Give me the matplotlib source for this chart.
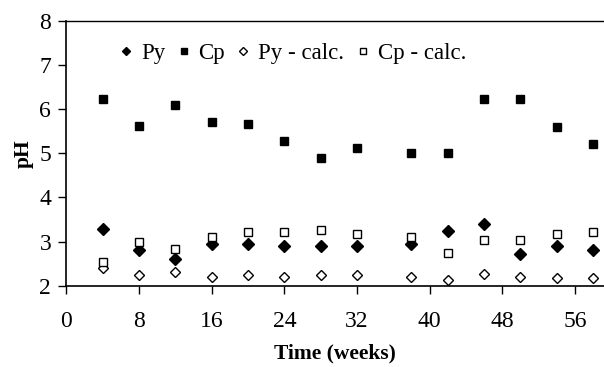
import matplotlib.pyplot as plt

plt.rcParams['font.family'] = ['Liberation Serif', 'DejaVu Serif']

weeks = [4, 8, 12, 16, 20, 24, 28, 32, 38, 42, 46, 50, 54, 58]
py = [3.29, 2.81, 2.61, 2.94, 2.95, 2.91, 2.91, 2.91, 2.95, 3.25, 3.39, 2.72, 2.91, 2.81]
cp = [6.22, 5.61, 6.09, 5.71, 5.65, 5.27, 4.90, 5.11, 5.00, 5.00, 6.22, 6.22, 5.60, 5.20]
py_calc = [2.40, 2.24, 2.31, 2.21, 2.24, 2.21, 2.24, 2.24, 2.21, 2.14, 2.28, 2.21, 2.17, 2.17]
cp_calc = [2.54, 3.00, 2.83, 3.11, 3.21, 3.21, 3.27, 3.18, 3.11, 2.74, 3.03, 3.03, 3.18, 3.21]

xticks = [0, 8, 16, 24, 32, 40, 48, 56]
yticks = [2, 3, 4, 5, 6, 7, 8]

fig = plt.figure(figsize=(6.04, 3.67), dpi=100)
ax = fig.add_axes([0.110, 0.221, 0.890, 0.723])

ax.plot(weeks, py, linestyle='none', marker='D', markersize=6, color='black', label='Py')
ax.plot(weeks, cp, linestyle='none', marker='s', markersize=6, color='black', label='Cp')
ax.plot(weeks, py_calc, linestyle='none', marker='D', markersize=5.5, markerfacecolor='white',
        markeredgecolor='black', markeredgewidth=1, label='Py - calc.')
ax.plot(weeks, cp_calc, linestyle='none', marker='s', markersize=6, markerfacecolor='white',
        markeredgecolor='black', markeredgewidth=1, label='Cp - calc.')

ax.set_xlim(0, 59.2)
ax.set_ylim(2, 8)
ax.set_xticks(xticks)
ax.set_yticks(yticks)
ax.tick_params(direction='out', length=6, width=1, labelsize=17, pad=5)
ax.tick_params(axis='x', pad=12)
ax.spines['right'].set_visible(False)
for s in ['left', 'bottom']:
    ax.spines[s].set_linewidth(1.2)
ax.spines['top'].set_linewidth(1.0)

ax.set_xlabel('Time (weeks)', fontsize=15.5, fontweight='bold', labelpad=8)
ax.set_ylabel('pH', fontsize=15.5, fontweight='bold', labelpad=4)

ax.legend(loc='upper left', bbox_to_anchor=(0.062, 0.995), ncol=4, frameon=False, fontsize=16.5,
          handlelength=0.5, handletextpad=0.4, columnspacing=0.55, markerscale=0.75)

fig.savefig('out.png', dpi=100)
